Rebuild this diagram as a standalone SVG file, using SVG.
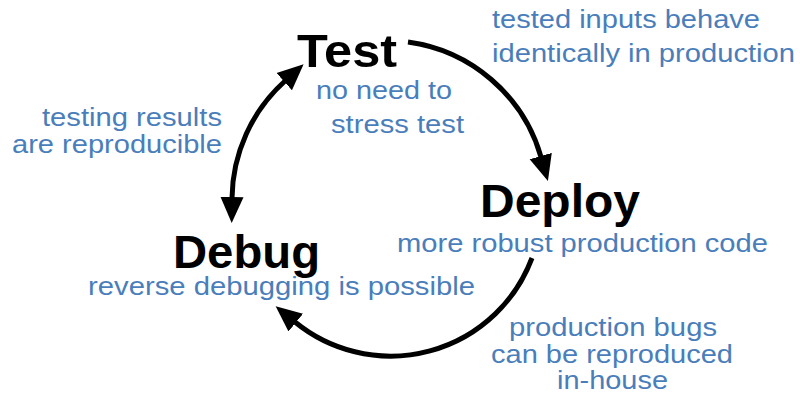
<svg xmlns="http://www.w3.org/2000/svg" width="800" height="401" viewBox="0 0 800 401">
  <style>
    .title { font-family: "Liberation Sans", Arial, sans-serif; font-weight: bold; font-size: 46px; fill: #000; }
    .note { font-family: "Liberation Sans", Arial, sans-serif; font-size: 25px; fill: #4a7ebb; }
    .arc { fill: none; stroke: #000; stroke-width: 5; }
  </style>
  <defs>
    <marker id="head" markerUnits="userSpaceOnUse" markerWidth="30" markerHeight="26" viewBox="0 -13 30 26" refX="1" refY="0" orient="auto-start-reverse">
      <path d="M0,-11.5 L26,0 L0,11.5 z" fill="#000"/>
    </marker>
  </defs>

  <rect width="800" height="401" fill="#fff"/>

  <g id="connectors">
    <!-- Test to Deploy -->
    <path class="arc" d="M408,42 A161,161 0 0 1 541,157" marker-end="url(#head)"/>
    <!-- Deploy to Debug -->
    <path class="arc" d="M532,258 A151,151 0 0 1 295,322" marker-end="url(#head)"/>
    <!-- Test and Debug, both ways -->
    <path class="arc" d="M285,81 A160,160 0 0 0 232,198" marker-start="url(#head)" marker-end="url(#head)"/>
  </g>

  <g id="test">
    <text class="title" x="297" y="67" textLength="100" lengthAdjust="spacingAndGlyphs">Test</text>
    <text class="note" x="316" y="99" textLength="136" lengthAdjust="spacingAndGlyphs">no need to</text>
    <text class="note" x="331" y="133" textLength="133" lengthAdjust="spacingAndGlyphs">stress test</text>
  </g>

  <g id="deploy">
    <text class="title" x="480" y="217" textLength="160" lengthAdjust="spacingAndGlyphs">Deploy</text>
    <text class="note" x="397" y="252" textLength="371" lengthAdjust="spacingAndGlyphs">more robust production code</text>
  </g>

  <g id="debug">
    <text class="title" x="173" y="268" textLength="147" lengthAdjust="spacingAndGlyphs">Debug</text>
    <text class="note" x="88" y="295" textLength="387" lengthAdjust="spacingAndGlyphs">reverse debugging is possible</text>
  </g>

  <g id="label-test-deploy">
    <text class="note" x="492" y="28" textLength="268" lengthAdjust="spacingAndGlyphs">tested inputs behave</text>
    <text class="note" x="492" y="62" textLength="303" lengthAdjust="spacingAndGlyphs">identically in production</text>
  </g>

  <g id="label-debug-test">
    <text class="note" x="42" y="126" textLength="180" lengthAdjust="spacingAndGlyphs">testing results</text>
    <text class="note" x="12" y="153" textLength="210" lengthAdjust="spacingAndGlyphs">are reproducible</text>
  </g>

  <g id="label-deploy-debug">
    <text class="note" x="509" y="336" textLength="208" lengthAdjust="spacingAndGlyphs">production bugs</text>
    <text class="note" x="491" y="363" textLength="242" lengthAdjust="spacingAndGlyphs">can be reproduced</text>
    <text class="note" x="557" y="389" textLength="111" lengthAdjust="spacingAndGlyphs">in-house</text>
  </g>
</svg>
